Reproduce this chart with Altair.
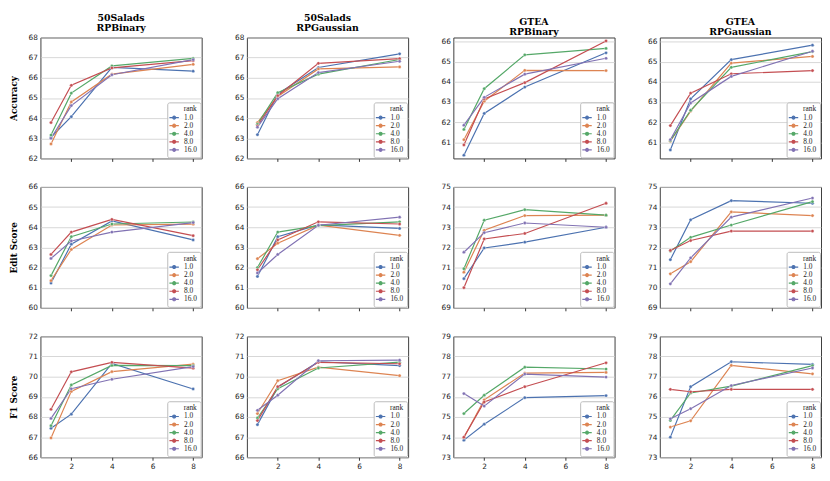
import math
import altair as alt
import pandas as pd

x_vals = [1, 2, 4, 8]
ranks = ["1.0", "2.0", "4.0", "8.0", "16.0"]
colors = ["#4C72B0", "#DD8452", "#55A868", "#C44E52", "#8172B3"]

col_datasets = ["50Salads", "50Salads", "GTEA", "GTEA"]
col_methods = ["RPBinary", "RPGaussian", "RPBinary", "RPGaussian"]
metrics = ["Accuracy", "Edit Score", "F1 Score"]

# each list: one row per rank (1,2,4,8,16), one value per x (1,2,4,8)
acc_50salads_rpbinary = [
    [63.05, 64.07, 66.52, 66.33],
    [62.72, 64.80, 66.18, 66.67],
    [63.16, 65.24, 66.59, 66.96],
    [63.78, 65.63, 66.49, 66.85],
    [63.00, 64.62, 66.15, 66.90],
]
acc_50salads_rpgaussian = [
    [63.18, 65.20, 66.51, 67.19],
    [63.78, 65.07, 66.44, 66.54],
    [63.70, 65.26, 66.18, 66.91],
    [63.62, 65.11, 66.72, 66.95],
    [63.55, 64.96, 66.26, 66.82],
]
acc_gtea_rpbinary = [
    [60.36, 62.43, 63.74, 65.44],
    [61.13, 63.04, 64.57, 64.56],
    [61.64, 63.66, 65.34, 65.66],
    [60.87, 63.15, 63.96, 66.03],
    [61.85, 63.23, 64.38, 65.17],
]
acc_gtea_rpgaussian = [
    [60.62, 63.16, 65.10, 65.82],
    [61.05, 62.55, 64.93, 65.26],
    [61.08, 62.59, 64.72, 65.50],
    [61.83, 63.44, 64.40, 64.56],
    [61.13, 62.95, 64.27, 65.52],
]
edit_50salads_rpbinary = [
    [61.23, 63.16, 64.31, 63.37],
    [61.35, 62.90, 64.11, 64.15],
    [61.60, 63.53, 64.16, 64.26],
    [62.65, 63.76, 64.39, 63.58],
    [62.45, 63.32, 63.76, 64.23],
]
edit_50salads_rpgaussian = [
    [61.56, 63.53, 64.12, 63.94],
    [62.44, 63.21, 64.10, 63.60],
    [62.00, 63.76, 64.08, 64.27],
    [61.89, 63.37, 64.27, 64.16],
    [61.73, 62.65, 64.10, 64.50],
]
edit_gtea_rpbinary = [
    [70.45, 71.97, 72.26, 73.00],
    [70.77, 72.85, 73.58, 73.60],
    [70.94, 73.35, 73.87, 73.60],
    [70.00, 72.42, 72.69, 74.19],
    [71.76, 72.73, 73.21, 73.00],
]
edit_gtea_rpgaussian = [
    [71.39, 73.37, 74.32, 74.19],
    [70.69, 71.29, 73.76, 73.58],
    [71.82, 72.50, 73.11, 74.27],
    [71.85, 72.34, 72.81, 72.81],
    [70.19, 71.48, 73.50, 74.45],
]
f1_50salads_rpbinary = [
    [67.44, 68.14, 70.66, 69.39],
    [66.96, 69.27, 70.25, 70.62],
    [67.57, 69.59, 70.56, 70.55],
    [68.38, 70.24, 70.71, 70.42],
    [67.93, 69.40, 69.87, 70.50],
]
f1_50salads_rpgaussian = [
    [67.62, 69.48, 70.74, 70.55],
    [68.17, 69.80, 70.47, 70.05],
    [67.95, 69.40, 70.43, 70.72],
    [67.82, 69.50, 70.71, 70.64],
    [68.33, 69.08, 70.79, 70.82],
]
f1_gtea_rpbinary = [
    [73.85, 74.64, 75.96, 76.06],
    [73.98, 75.85, 77.18, 77.21],
    [75.17, 76.08, 77.47, 77.38],
    [74.00, 75.74, 76.50, 77.69],
    [76.16, 75.54, 77.13, 76.98],
]
f1_gtea_rpgaussian = [
    [74.00, 76.50, 77.74, 77.61],
    [74.50, 74.81, 77.56, 77.14],
    [74.83, 76.19, 76.53, 77.55],
    [76.37, 76.25, 76.37, 76.37],
    [74.91, 75.41, 76.56, 77.43],
]

grid_values = [
    [acc_50salads_rpbinary, acc_50salads_rpgaussian, acc_gtea_rpbinary, acc_gtea_rpgaussian],
    [edit_50salads_rpbinary, edit_50salads_rpgaussian, edit_gtea_rpbinary, edit_gtea_rpgaussian],
    [f1_50salads_rpbinary, f1_50salads_rpgaussian, f1_gtea_rpbinary, f1_gtea_rpgaussian],
]
y_domains = [
    [[62, 68], [62, 68], [60.2, 66.2], [60.2, 66.2]],
    [[60, 66], [60, 66], [69, 75], [69, 75]],
    [[66, 72], [66, 72], [73, 79], [73, 79]],
]
x_ticks = [2, 4, 6, 8]

LEGEND_PATH = "M-1.6,0L1.6,0M0.5,0A0.5,0.5,0,1,1,-0.5,0A0.5,0.5,0,1,1,0.5,0"
SERIF = "DejaVu Serif"
LSERIF = "Liberation Serif"
SANS = "DejaVu Sans"


def panel(r, c):
    values = grid_values[r][c]
    recs = []
    for i, rk in enumerate(ranks):
        for j, xv in enumerate(x_vals):
            recs.append({"x": xv, "value": values[i][j], "rank": rk})
    df = pd.DataFrame(recs)
    lo, hi = y_domains[r][c]
    yt = list(range(math.ceil(lo), math.floor(hi) + 1))

    xs = alt.Scale(domain=[0.48, 8.42], nice=False, zero=False)
    ys = alt.Scale(domain=[lo, hi], nice=False, zero=False)
    xaxis = alt.Axis(values=x_ticks, grid=False, ticks=True, tickSize=3,
                     tickColor="#333333", labels=(r == 2), domain=False,
                     title=None, labelFont=SANS, labelFontSize=7.5,
                     labelColor="#222222", labelPadding=2, format="d")
    yaxis = alt.Axis(values=yt, grid=True, gridColor="#cccccc", gridWidth=0.8,
                     ticks=False, domain=False,
                     title=(metrics[r] if c == 0 else None),
                     titleFont=SERIF, titleFontWeight="bold", titleFontSize=9,
                     titleColor="#000000", titlePadding=10,
                     labelFont=SANS, labelFontSize=7.5, labelColor="#222222",
                     labelPadding=3, format="d")
    cscale = alt.Scale(domain=ranks, range=colors)
    legend = alt.Legend(title="rank", orient="bottom-right", offset=1.5,
                        symbolType=LEGEND_PATH, symbolSize=36,
                        symbolStrokeWidth=1.2,
                        labelFont=LSERIF, labelFontSize=7.5, labelColor="#222222",
                        labelOffset=6,
                        titleFont=LSERIF, titleFontSize=7.5,
                        titleFontWeight="normal", titleColor="#222222",
                        titleAnchor="end", titlePadding=1,
                        padding=3, rowPadding=0.2,
                        strokeColor="#bbbbbb", cornerRadius=2,
                        fillColor="rgba(255,255,255,0.85)")
    base = alt.Chart(df)
    line = base.mark_line(strokeWidth=1.2, clip=True).encode(
        x=alt.X("x:Q", scale=xs, axis=xaxis),
        y=alt.Y("value:Q", scale=ys, axis=yaxis),
        color=alt.Color("rank:N", scale=cscale, sort=ranks, legend=legend),
    )
    pts = base.mark_point(filled=True, size=11, stroke="white", strokeWidth=0.4,
                          opacity=1, clip=True).encode(
        x=alt.X("x:Q", scale=xs, axis=xaxis),
        y=alt.Y("value:Q", scale=ys, axis=yaxis),
        fill=alt.Fill("rank:N", scale=cscale, sort=ranks, legend=None),
    )
    ch = alt.layer(line, pts).properties(width=164, height=123)
    if r == 0:
        ch = ch.properties(title=alt.TitleParams(
            text=[col_datasets[c], col_methods[c]], font=SERIF,
            fontWeight="bold", fontSize=9.5, lineHeight=10.5,
            color="#000000", anchor="middle", offset=1))
    return ch


rows = []
for r in range(3):
    row = alt.hconcat(*[panel(r, c) for c in range(4)], spacing=31)
    row = row.resolve_scale(color="independent", fill="independent").resolve_legend(color="independent")
    rows.append(row)

chart = alt.vconcat(*rows, spacing=20).resolve_scale(
    color="independent", fill="independent").resolve_legend(color="independent")
chart = chart.properties(padding=0, background="white").configure_view(
    stroke="#3c3c3c", strokeWidth=1)

chart.save("out.html", embed_options={"renderer": "svg", "actions": False})
